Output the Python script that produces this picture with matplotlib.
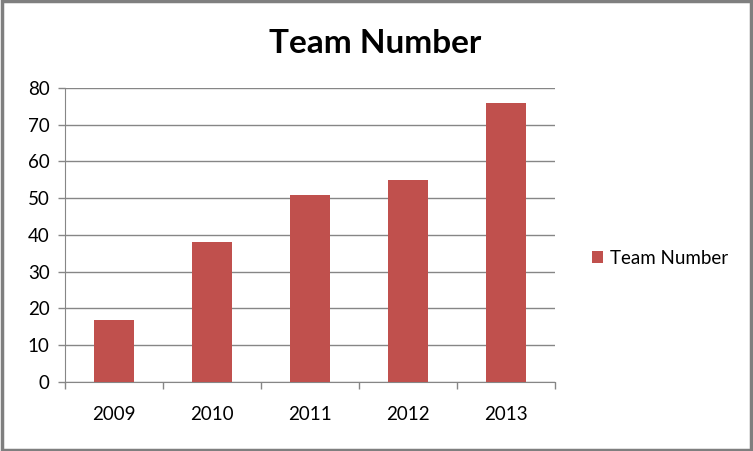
import matplotlib.pyplot as plt
from matplotlib.patches import Rectangle

# data
years = ['2009', '2010', '2011', '2012', '2013']
team_number = [17, 38, 51, 55, 76]
y_ticks = [0, 10, 20, 30, 40, 50, 60, 70, 80]

plt.rcParams['font.family'] = ['Lato', 'DejaVu Sans']

fig = plt.figure(figsize=(7.53, 4.51), dpi=100)
ax = fig.add_axes([0.0863, 0.153, 0.651, 0.652])

x = range(len(years))
ax.bar(x, team_number, width=0.41, color='#C0504D', label='Team Number', zorder=3)

ax.set_xlim(-0.5, len(years) - 0.5)
ax.set_ylim(0, 80)
ax.set_yticks(y_ticks)
ax.set_yticklabels([str(v) for v in y_ticks])
ax.yaxis.grid(True, color='#868686', linewidth=1, zorder=0)

# x ticks between categories, labels centred
ax.set_xticks([i - 0.5 for i in range(len(years) + 1)])
ax.set_xticklabels([])
ax.set_xticks(list(x), minor=True)
ax.set_xticklabels(years, minor=True)
ax.tick_params(axis='x', which='major', length=5, color='#868686', width=1)
ax.tick_params(axis='x', which='minor', length=0, pad=17, labelsize=13.5)
ax.tick_params(axis='y', length=5, color='#868686', width=1, pad=6, labelsize=13.5)

for s in ['top', 'right']:
    ax.spines[s].set_visible(False)
ax.spines['left'].set_color('#868686')
ax.spines['bottom'].set_color('#868686')

fig.suptitle('Team Number', x=0.498, y=0.935, fontsize=24, fontweight='bold')

ax.legend(loc='center left', bbox_to_anchor=(1.04, 0.42), frameon=False,
          fontsize=13.5, handlelength=0.6, handleheight=0.6, handletextpad=0.4)

# outer frame
fig.patches.append(Rectangle((0.002, 0.003), 0.996, 0.994, transform=fig.transFigure,
                             fill=False, edgecolor='#7f7f7f', linewidth=2.5))

fig.savefig('out.png', dpi=100)
